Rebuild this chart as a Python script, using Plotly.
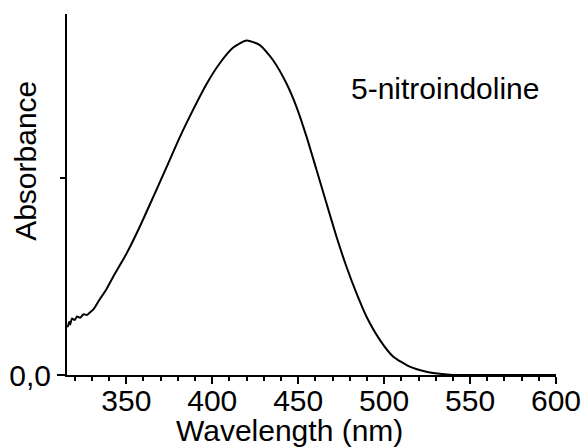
import plotly.graph_objects as go

wavelength_nm = [315.5, 316.1, 316.8, 317.4, 318.4, 320.0, 321.3, 323.2, 325.2, 327.1,
                 329.0, 331.0, 334.3, 338.0, 342.4, 350.2, 357.9, 365.7, 373.5, 381.2,
                 388.9, 396.7, 404.5, 412.2, 420.0, 427.7, 435.4, 443.2, 449.0, 454.9,
                 460.7, 466.5, 472.3, 478.1, 483.9, 489.7, 497.5, 505.2, 514.9, 524.6,
                 532.4, 540.0, 560.0, 580.0, 600.0]
absorbance = [0.122, 0.124, 0.135, 0.128, 0.143, 0.139, 0.148, 0.145, 0.154, 0.152,
              0.159, 0.167, 0.190, 0.214, 0.249, 0.308, 0.376, 0.451, 0.527, 0.603,
              0.672, 0.737, 0.790, 0.829, 0.847, 0.835, 0.797, 0.738, 0.679, 0.603,
              0.519, 0.434, 0.350, 0.274, 0.207, 0.148, 0.089, 0.047, 0.021, 0.008,
              0.003, 0.0, 0.0, 0.0, 0.0]

x_tick_vals = [350, 400, 450, 500, 550, 600]
x_tick_text = ["350", "400", "450", "500", "550", "600"]
y_tick_vals = [0.0]
y_tick_text = ["0,0"]
y_minor_vals = [0.5]

sample_label = "5-nitroindoline"
x_title = "Wavelength (nm)"
y_title = "Absorbance"

FONT = "Liberation Sans, Arial, sans-serif"

fig = go.Figure()
fig.add_trace(go.Scatter(
    x=wavelength_nm, y=absorbance, mode="lines",
    line=dict(color="black", width=2, shape="spline", smoothing=0.6),
    showlegend=False, hoverinfo="skip"))

fig.update_layout(
    width=584, height=448,
    margin=dict(l=67, r=28, t=14, b=73, autoexpand=False),
    paper_bgcolor="white", plot_bgcolor="white",
    font=dict(family=FONT, size=30, color="black"),
    xaxis=dict(
        range=[315.5, 600], tickmode="array", tickvals=x_tick_vals, ticktext=x_tick_text,
        ticks="outside", ticklen=7, tickwidth=2, tickcolor="black",
        ticklabelstandoff=-9,
        showline=True, linewidth=2, linecolor="black",
        showgrid=False, zeroline=False,
        tickfont=dict(family=FONT, size=30, color="black"),
        minor=dict(dtick=10, tick0=0, ticks="outside", ticklen=4, tickwidth=2,
                   tickcolor="black", showgrid=False),
    ),
    yaxis=dict(
        range=[0, 0.914], tickmode="array", tickvals=y_tick_vals, ticktext=y_tick_text,
        ticks="outside", ticklen=8, tickwidth=2, tickcolor="black",
        showline=True, linewidth=2, linecolor="black",
        showgrid=False, zeroline=False,
        tickfont=dict(family=FONT, size=30, color="black"),
        minor=dict(tickmode="array", tickvals=y_minor_vals, ticks="outside", ticklen=5,
                   tickwidth=2, tickcolor="black", showgrid=False),
    ),
)

fig.add_annotation(x=479.5, y=0.725, xref="x", yref="y", text=sample_label,
                   showarrow=False, xanchor="left", yanchor="middle",
                   font=dict(family=FONT, size=30, color="black"))
fig.add_annotation(x=0.456, y=-0.155, xref="paper", yref="paper", text=x_title,
                   showarrow=False, xanchor="center", yanchor="middle",
                   font=dict(family=FONT, size=30, color="black"))
fig.add_annotation(x=-0.084, y=0.593, xref="paper", yref="paper", text=y_title,
                   showarrow=False, xanchor="center", yanchor="middle", textangle=-90,
                   font=dict(family=FONT, size=30, color="black"))

fig.write_html("out.html")
